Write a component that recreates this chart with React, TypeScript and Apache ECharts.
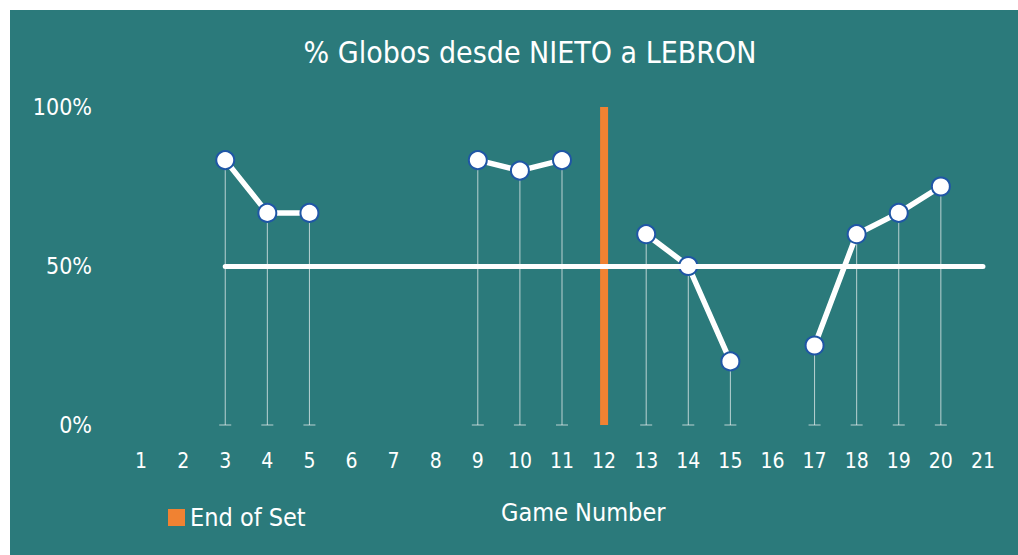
import React, { useEffect, useRef } from "react";
import * as echarts from "echarts";

const games = ["1","2","3","4","5","6","7","8","9","10","11","12","13","14","15","16","17","18","19","20","21"];
const lobPct = [null, null, 83.3, 66.7, 66.7, null, null, null, 83.3, 80, 83.3, null, 60, 50, 20, null, 25, 60, 66.7, 75, null];
const endOfSet = [null, null, null, null, null, null, null, null, null, null, null, 100, null, null, null, null, null, null, null, null, null];
const refLevel = 50;
const refFrom = "3";
const refTo = "21";
const yTicks = [0, 50, 100];

const TEAL = "#2b7a7b";
const ORANGE = "#f08232";
const FONT = "'DejaVu Sans Condensed', 'Liberation Sans Narrow', sans-serif";

export default function App() {
  const ref = useRef<HTMLDivElement>(null);
  useEffect(() => {
    const chart = echarts.init(ref.current!, null, { renderer: "svg" });
    const dropData = lobPct
      .map((v, i) => (v == null ? null : [i, v]))
      .filter((d) => d != null);
    chart.setOption({
      animation: false,
      backgroundColor: "#ffffff",
      textStyle: { fontFamily: FONT },
      graphic: [
        {
          type: "rect",
          z: -10,
          silent: true,
          shape: { x: 10, y: 10, width: 1008, height: 545 },
          style: { fill: TEAL },
        },
        {
          type: "text",
          left: 501,
          top: 500,
          silent: true,
          style: { text: "Game Number", fill: "#ffffff", font: `25px ${FONT}` },
        },
      ],
      title: {
        text: "% Globos desde NIETO a LEBRON",
        left: 525,
        textAlign: "center",
        top: 32,
        textStyle: { color: "#ffffff", fontSize: 30, fontWeight: "normal", fontFamily: FONT },
      },
      legend: {
        data: [{ name: "End of Set", icon: "rect" }],
        left: 163,
        top: 500,
        itemWidth: 17,
        itemHeight: 17,
        itemGap: 8,
        textStyle: { color: "#ffffff", fontSize: 25, fontFamily: FONT },
      },
      grid: { left: 120, right: 14, top: 107, bottom: 130 },
      xAxis: {
        type: "category",
        data: games,
        boundaryGap: true,
        axisLine: { show: false },
        axisTick: { show: false },
        axisLabel: { color: "#ffffff", fontSize: 21, margin: 25, fontFamily: FONT },
      },
      yAxis: {
        type: "value",
        min: 0,
        max: 100,
        interval: 50,
        splitLine: { show: false },
        axisLine: { show: false },
        axisTick: { show: false },
        axisLabel: {
          color: "#ffffff",
          fontSize: 23,
          margin: 28,
          fontFamily: FONT,
          formatter: (v: number) => (yTicks.includes(v) ? v + "%" : ""),
        },
      },
      series: [
        {
          name: "End of Set",
          type: "bar",
          data: endOfSet,
          barWidth: 8,
          itemStyle: { color: ORANGE },
          z: 1,
          silent: true,
        },
        {
          name: "drops",
          type: "custom",
          data: dropData,
          encode: { x: 0, y: 1 },
          z: 2,
          silent: true,
          renderItem: (params: any, api: any) => {
            const x = api.value(0);
            const v = api.value(1);
            const top = api.coord([x, v]);
            const base = api.coord([x, 0]);
            const style = { stroke: "rgba(235,240,240,0.75)", lineWidth: 1 };
            return {
              type: "group",
              children: [
                { type: "line", shape: { x1: top[0], y1: top[1], x2: base[0], y2: base[1] }, style },
                { type: "line", shape: { x1: base[0] - 6, y1: base[1], x2: base[0] + 6, y2: base[1] }, style },
              ],
            };
          },
        },
        {
          name: "ref",
          type: "line",
          data: [],
          z: 3,
          silent: true,
          markLine: {
            silent: true,
            symbol: ["none", "none"],
            label: { show: false },
            lineStyle: { color: "#ffffff", width: 5, type: "solid", cap: "round" },
            data: [[{ coord: [refFrom, refLevel] }, { coord: [refTo, refLevel] }]],
          },
        },
        {
          name: "% Globos",
          type: "line",
          data: lobPct,
          z: 4,
          connectNulls: false,
          symbol: "circle",
          symbolSize: 18,
          showAllSymbol: true,
          lineStyle: { color: "#ffffff", width: 5.5 },
          itemStyle: { color: "#ffffff", borderColor: "#1f56a6", borderWidth: 2 },
        },
      ],
    });
    return () => chart.dispose();
  }, []);
  return (
    <div
      ref={ref}
      style={{ position: "absolute", left: 0, top: 0, width: 1018, height: 555 }}
    />
  );
}
